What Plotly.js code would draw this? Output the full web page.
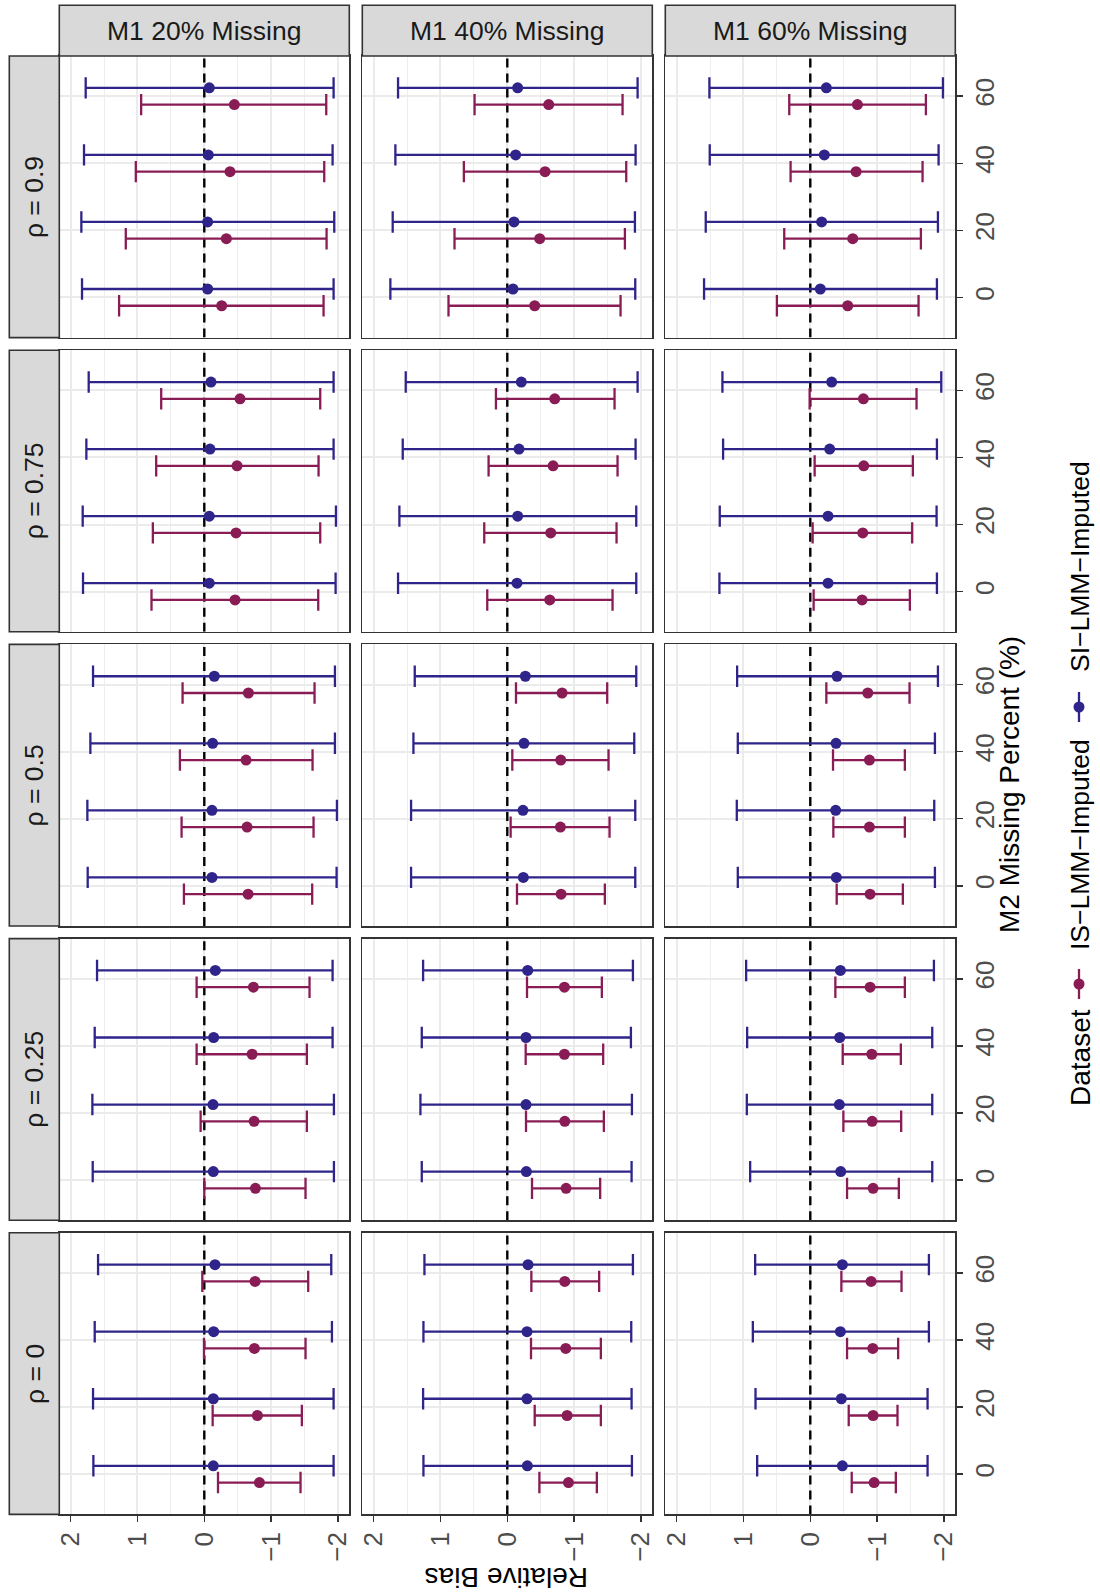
<!DOCTYPE html>
<html><head><meta charset="utf-8">
<script src="https://cdn.plot.ly/plotly-3.0.1.min.js"></script>
<style>html,body{margin:0;padding:0;background:#fff}#chart{width:1100px;height:1595px}</style>
</head><body><div id="chart"></div>
<script>
// ---------------- data ----------------
const m1Levels = ['M1 20% Missing', 'M1 40% Missing', 'M1 60% Missing'];
const rhoLevels = ['0', '0.25', '0.5', '0.75', '0.9'];
const m2Levels = [0, 20, 40, 60];
const biasTicks = [2, 1, 0, -1, -2];
const biasTickText = ['2', '1', '0', '\u22121', '\u22122'];
const refBias = 0;
const datasetNames = ['IS\u2212LMM\u2212Imputed', 'SI\u2212LMM\u2212Imputed'];

// rows: rho = 0, 0.25, 0.5, 0.75, 0.9 ; columns inside: M2 = 0, 20, 40, 60
const si_est_20 = [[-0.135,-0.135,-0.14,-0.16],[-0.135,-0.13,-0.14,-0.165],[-0.115,-0.115,-0.125,-0.15],[-0.075,-0.075,-0.085,-0.10],[-0.05,-0.05,-0.06,-0.075]];
const si_lo_20  = [[-1.935,-1.935,-1.91,-1.90],[-1.94,-1.94,-1.92,-1.92],[-1.98,-1.985,-1.955,-1.955],[-1.965,-1.97,-1.935,-1.935],[-1.935,-1.945,-1.92,-1.935]];
const si_hi_20  = [[1.66,1.665,1.64,1.59],[1.67,1.675,1.64,1.605],[1.745,1.75,1.705,1.665],[1.815,1.82,1.765,1.73],[1.83,1.84,1.80,1.775]];
const is_est_20 = [[-0.825,-0.795,-0.75,-0.76],[-0.765,-0.745,-0.715,-0.735],[-0.655,-0.64,-0.625,-0.66],[-0.46,-0.475,-0.49,-0.535],[-0.26,-0.33,-0.385,-0.45]];
const is_lo_20  = [[-1.44,-1.46,-1.515,-1.555],[-1.515,-1.535,-1.535,-1.575],[-1.615,-1.635,-1.62,-1.65],[-1.705,-1.735,-1.71,-1.735],[-1.785,-1.83,-1.795,-1.825]];
const is_hi_20  = [[-0.205,-0.125,0.005,0.03],[0.0,0.055,0.115,0.115],[0.305,0.34,0.365,0.325],[0.79,0.77,0.72,0.645],[1.275,1.175,1.025,0.945]];

const si_est_40 = [[-0.30,-0.295,-0.295,-0.31],[-0.285,-0.28,-0.28,-0.305],[-0.24,-0.235,-0.25,-0.27],[-0.145,-0.155,-0.175,-0.21],[-0.085,-0.10,-0.125,-0.155]];
const si_lo_40  = [[-1.865,-1.86,-1.855,-1.88],[-1.86,-1.865,-1.85,-1.88],[-1.915,-1.915,-1.90,-1.93],[-1.93,-1.93,-1.92,-1.95],[-1.915,-1.91,-1.92,-1.95]];
const si_hi_40  = [[1.255,1.26,1.255,1.24],[1.28,1.30,1.28,1.26],[1.44,1.44,1.405,1.385],[1.635,1.615,1.565,1.52],[1.75,1.715,1.675,1.635]];
const is_est_40 = [[-0.915,-0.895,-0.875,-0.86],[-0.88,-0.86,-0.855,-0.855],[-0.805,-0.795,-0.80,-0.82],[-0.635,-0.65,-0.685,-0.71],[-0.41,-0.485,-0.565,-0.62]];
const is_lo_40  = [[-1.34,-1.40,-1.40,-1.375],[-1.39,-1.445,-1.435,-1.415],[-1.46,-1.53,-1.515,-1.495],[-1.575,-1.635,-1.65,-1.605],[-1.695,-1.76,-1.78,-1.725]];
const is_hi_40  = [[-0.48,-0.41,-0.355,-0.36],[-0.37,-0.28,-0.275,-0.295],[-0.145,-0.05,-0.075,-0.13],[0.30,0.345,0.28,0.17],[0.88,0.79,0.65,0.49]];

const si_est_60 = [[-0.48,-0.465,-0.45,-0.48],[-0.455,-0.435,-0.44,-0.45],[-0.39,-0.38,-0.385,-0.40],[-0.265,-0.265,-0.29,-0.32],[-0.15,-0.17,-0.21,-0.24]];
const si_lo_60  = [[-1.755,-1.755,-1.775,-1.775],[-1.825,-1.825,-1.825,-1.85],[-1.865,-1.855,-1.865,-1.91],[-1.895,-1.89,-1.895,-1.96],[-1.895,-1.91,-1.92,-1.985]];
const si_hi_60  = [[0.795,0.82,0.86,0.825],[0.90,0.95,0.945,0.96],[1.085,1.10,1.085,1.095],[1.36,1.355,1.305,1.315],[1.59,1.565,1.505,1.51]];
const is_est_60 = [[-0.955,-0.94,-0.935,-0.91],[-0.94,-0.925,-0.92,-0.895],[-0.895,-0.885,-0.885,-0.86],[-0.775,-0.785,-0.80,-0.795],[-0.56,-0.635,-0.685,-0.705]];
const is_lo_60  = [[-1.28,-1.305,-1.315,-1.365],[-1.325,-1.36,-1.355,-1.415],[-1.385,-1.415,-1.415,-1.485],[-1.49,-1.525,-1.535,-1.59],[-1.62,-1.655,-1.68,-1.73]];
const is_hi_60  = [[-0.62,-0.575,-0.55,-0.465],[-0.55,-0.495,-0.485,-0.375],[-0.395,-0.345,-0.34,-0.24],[-0.05,-0.035,-0.065,0.01],[0.50,0.39,0.295,0.315]];

const siEst = [si_est_20, si_est_40, si_est_60];
const siLo  = [si_lo_20, si_lo_40, si_lo_60];
const siHi  = [si_hi_20, si_hi_40, si_hi_60];
const isEst = [is_est_20, is_est_40, is_est_60];
const isLo  = [is_lo_20, is_lo_40, is_lo_60];
const isHi  = [is_hi_20, is_hi_40, is_hi_60];

// ---------------- style / geometry ----------------
const W = 1100, H = 1595;
const FONT = 'Liberation Sans, Arial, Helvetica, sans-serif';
const colIS = '#8A1C55', colSI = '#2E2489';
const dodge = 2.5;
const yRange = [-12, 72], xRange = [2.17, -2.17];
const colL = [59.3, 362.3, 665.3], colW = 290;
const rowT = [56, 350.2, 644.4, 938.6, 1232.8], rowH = 281.6;
const stripTop = 5.3, stripLeft = 9.3;
const px = v => v / W, py = v => 1 - v / H;

const layout = {
  width: W, height: H, margin: {l: 0, r: 0, t: 0, b: 0},
  paper_bgcolor: '#fff', plot_bgcolor: '#fff', showlegend: false,
  font: {family: FONT, color: '#1A1A1A'},
  shapes: [], annotations: []
};
const traces = [];

for (let ri = 0; ri < 5; ri++) {          // rho index
  const row = 4 - ri;                     // display row (0 = top)
  for (let c = 0; c < 3; c++) {
    const k = row * 3 + c + 1;
    const xs = k === 1 ? '' : String(k);
    const xa = 'xaxis' + xs, ya = 'yaxis' + xs;
    const bottom = row === 4, right = c === 2;
    layout[xa] = {
      domain: [px(colL[c]), px(colL[c] + colW)], anchor: 'y' + xs,
      range: xRange, tickmode: 'array', tickvals: biasTicks, ticktext: biasTickText,
      showticklabels: bottom, ticks: bottom ? 'outside' : '', ticklen: 5.7, tickwidth: 1.5, tickcolor: '#333333',
      tickangle: -90, tickfont: {size: 26, color: '#4D4D4D', family: FONT},
      showgrid: true, gridcolor: '#EBEBEB', gridwidth: 2,
      minor: {dtick: 0.5, tick0: 0, showgrid: true, gridcolor: '#EEEEEE', gridwidth: 1},
      zeroline: false, showline: true, mirror: true, linecolor: '#333333', linewidth: 1.6,
      automargin: false, fixedrange: true
    };
    layout[ya] = {
      domain: [py(rowT[row] + rowH), py(rowT[row])], anchor: 'x' + xs,
      range: yRange, tickmode: 'array', tickvals: m2Levels, ticktext: m2Levels.map(String),
      side: 'right', showticklabels: right, ticks: right ? 'outside' : '', ticklen: 5.7, tickwidth: 1.5, tickcolor: '#333333',
      tickangle: -90, tickfont: {size: 26, color: '#4D4D4D', family: FONT},
      showgrid: true, gridcolor: '#EBEBEB', gridwidth: 2,
      zeroline: false, showline: true, mirror: true, linecolor: '#333333', linewidth: 1.6,
      automargin: false, fixedrange: true
    };
    // dashed reference line at zero bias
    traces.push({type: 'scatter', mode: 'lines', xaxis: 'x' + xs, yaxis: 'y' + xs,
      x: [refBias, refBias], y: yRange, line: {color: '#000', width: 2.4, dash: '9px,6px'}, hoverinfo: 'skip'});

    const series = [
      {est: isEst[c][ri], lo: isLo[c][ri], hi: isHi[c][ri], col: colIS, off: -dodge, name: datasetNames[0]},
      {est: siEst[c][ri], lo: siLo[c][ri], hi: siHi[c][ri], col: colSI, off: dodge, name: datasetNames[1]}
    ];
    series.forEach(s => {
      traces.push({
        type: 'scatter', mode: 'markers', xaxis: 'x' + xs, yaxis: 'y' + xs, name: s.name,
        x: s.est, y: m2Levels.map(v => v + s.off),
        error_x: {type: 'data', symmetric: false,
          array: s.hi.map((h, i) => h - s.est[i]), arrayminus: s.lo.map((l, i) => s.est[i] - l),
          color: s.col, thickness: 2.3, width: 10.7},
        marker: {color: s.col, size: 11, line: {width: 0}},
        hoverinfo: 'skip'
      });
    });
  }
}

// column strips (top)
for (let c = 0; c < 3; c++) {
  layout.shapes.push({type: 'rect', xref: 'paper', yref: 'paper', x0: px(colL[c]), x1: px(colL[c] + colW),
    y0: py(rowT[0]), y1: py(stripTop), fillcolor: '#D9D9D9', line: {color: '#333333', width: 1.6}, layer: 'above'});
  layout.annotations.push({xref: 'paper', yref: 'paper', x: px(colL[c] + colW / 2), y: py((stripTop + rowT[0]) / 2),
    text: m1Levels[c], showarrow: false, xanchor: 'center', yanchor: 'middle',
    font: {size: 26.5, color: '#1A1A1A', family: FONT}});
}
// row strips (left), rotated
for (let ri = 0; ri < 5; ri++) {
  const row = 4 - ri;
  layout.shapes.push({type: 'rect', xref: 'paper', yref: 'paper', x0: px(stripLeft), x1: px(colL[0]),
    y0: py(rowT[row] + rowH), y1: py(rowT[row]), fillcolor: '#D9D9D9', line: {color: '#333333', width: 1.6}, layer: 'above'});
  layout.annotations.push({xref: 'paper', yref: 'paper', x: px((stripLeft + colL[0]) / 2), y: py(rowT[row] + rowH / 2),
    text: '\u03C1 = ' + rhoLevels[ri], showarrow: false, textangle: -90, xanchor: 'center', yanchor: 'middle',
    font: {size: 26.5, color: '#1A1A1A', family: FONT}});
}
// axis titles
layout.annotations.push({xref: 'paper', yref: 'paper', x: px(507), y: py(1578), text: 'Relative Bias',
  showarrow: false, textangle: 180, xanchor: 'center', yanchor: 'middle', font: {size: 28, color: '#000', family: FONT}});
layout.annotations.push({xref: 'paper', yref: 'paper', x: px(1009), y: py(785), text: 'M2 Missing Percent (%)',
  showarrow: false, textangle: -90, xanchor: 'center', yanchor: 'middle', font: {size: 28, color: '#000', family: FONT}});

// legend (rotated, drawn by hand)
const legX = 1079;
layout.annotations.push({xref: 'paper', yref: 'paper', x: px(legX + 1), y: py(1058), text: 'Dataset',
  showarrow: false, textangle: -90, xanchor: 'center', yanchor: 'middle', font: {size: 28, color: '#000', family: FONT}});
const keyY = [984, 707], txtY = [845, 567], keyCol = [colIS, colSI];
for (let d = 0; d < 2; d++) {
  layout.shapes.push({type: 'line', xref: 'paper', yref: 'paper', x0: px(legX), x1: px(legX),
    y0: py(keyY[d] - 15), y1: py(keyY[d] + 15), line: {color: keyCol[d], width: 2.3}});
  layout.shapes.push({type: 'circle', xref: 'paper', yref: 'paper', x0: px(legX - 5.5), x1: px(legX + 5.5),
    y0: py(keyY[d] - 5.5), y1: py(keyY[d] + 5.5), fillcolor: keyCol[d], line: {width: 0}});
  layout.annotations.push({xref: 'paper', yref: 'paper', x: px(legX + 1), y: py(txtY[d]), text: datasetNames[d],
    showarrow: false, textangle: -90, xanchor: 'center', yanchor: 'middle', font: {size: 26.5, color: '#000', family: FONT}});
}

Plotly.newPlot('chart', traces, layout, {staticPlot: true, displayModeBar: false});
</script>
</body></html>
